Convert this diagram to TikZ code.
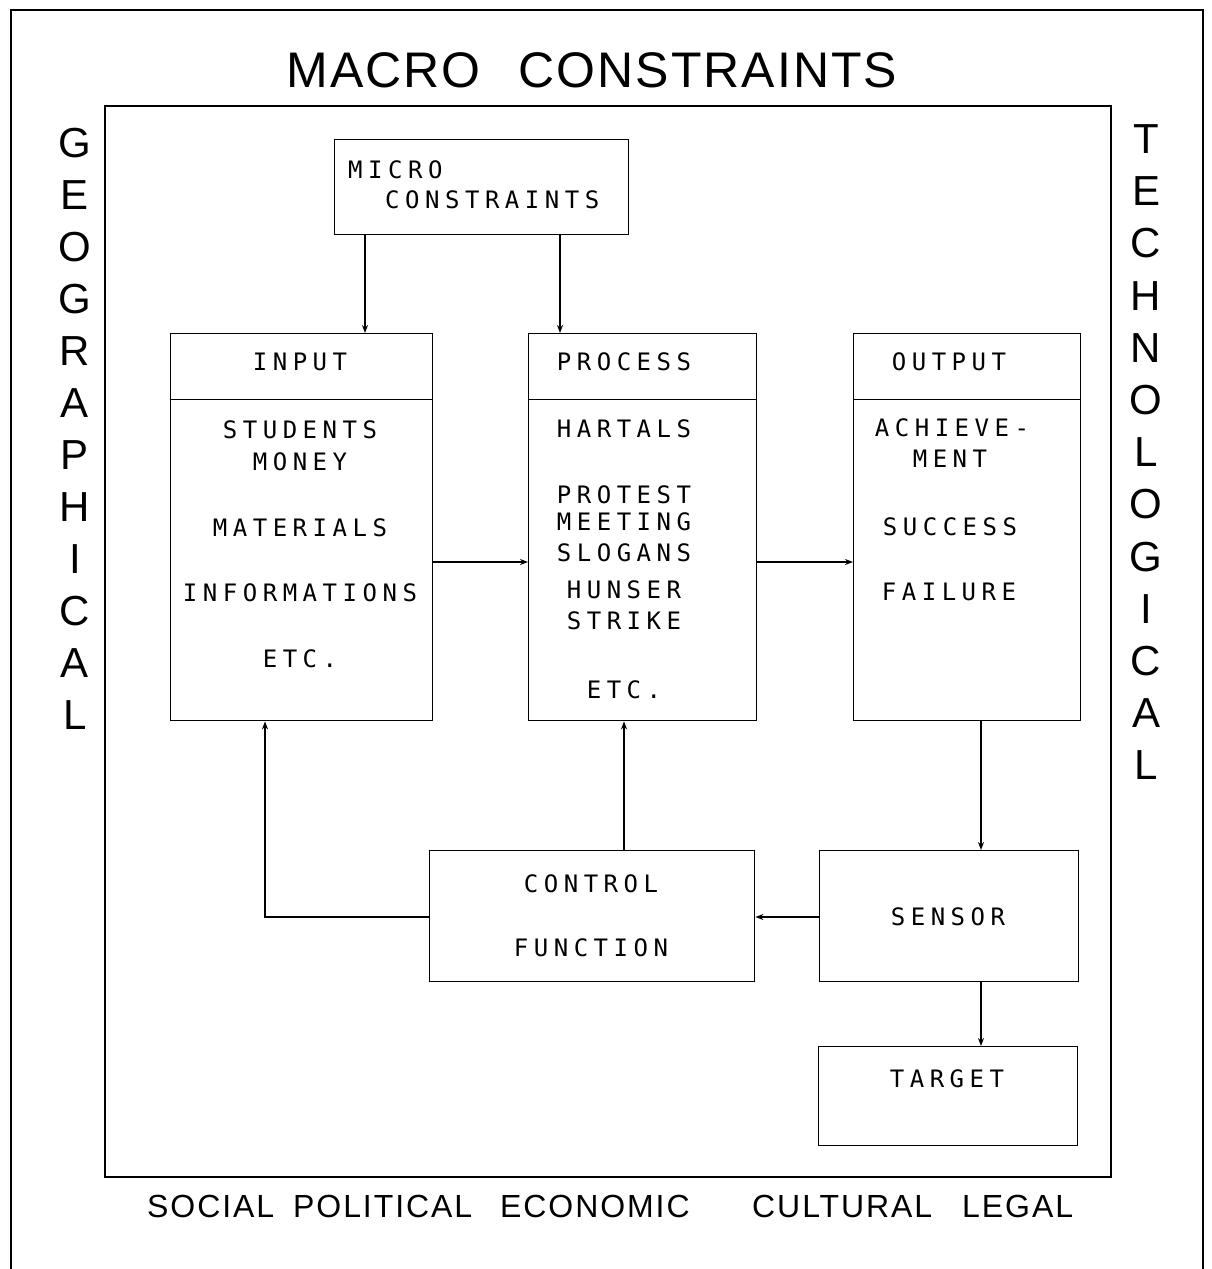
\documentclass[tikz,border=0pt]{standalone}
\usepackage{fontspec}
\setmainfont{Liberation Sans}
\newfontfamily\boxfont[LetterSpace=23]{DejaVu Sans Mono}
\newfontfamily\titlefont[LetterSpace=4]{Liberation Sans}
\newfontfamily\botfont[LetterSpace=6]{Liberation Sans}
\newfontfamily\sidefont{Liberation Sans}
\usetikzlibrary{arrows.meta}
\begin{document}
\begin{tikzpicture}[x=1pt,y=-1pt,
  box/.style={draw, line width=1.4pt, rectangle, inner sep=0pt, anchor=north west},
  arr/.style={line width=2.2pt, -{Stealth[length=8pt,width=6pt]}},
  txt/.style={font=\boxfont\fontsize{24pt}{28pt}\selectfont, inner sep=0pt},
  side/.style={font=\sidefont\fontsize{42pt}{48pt}\selectfont, inner sep=0pt},
  bot/.style={font=\botfont\fontsize{32pt}{38pt}\selectfont, inner sep=0pt, anchor=west}]
\useasboundingbox (0,0) rectangle (1211,1269);
\fill[white] (0,0) rectangle (1211,1269);
% frames
\draw[line width=1.4pt] (11,1269) -- (11,10) -- (1203,10) -- (1203,1269);
\draw[line width=1.6pt] (105,106) rectangle (1111,1177);
% title
\node[font=\titlefont\fontsize{50pt}{60pt}\selectfont, inner sep=0pt] (title) at (592,70) {MACRO\hspace{38pt}CONSTRAINTS};
% side letters
\foreach [count=\i] \c in {G,E,O,G,R,A,P,H,I,C,A,L}
  \node[side] (geo\i) at (75,{143+52*(\i-1)}) {\c};
\foreach [count=\i] \c in {T,E,C,H,N,O,L,O,G,I,C,A,L}
  \node[side] (tec\i) at (1146,{139+52.2*(\i-1)}) {\c};
% bottom words
\node[bot] (wsoc) at (147,1206.5) {SOCIAL};
\node[bot] (wpol) at (293,1206.5) {POLITICAL};
\node[bot] (weco) at (500,1206.5) {ECONOMIC};
\node[bot] (wcul) at (752,1206.5) {CULTURAL};
\node[bot] (wleg) at (962,1206.5) {LEGAL};
% boxes
\node[box, minimum width=294pt, minimum height=95pt] (micro) at (334,139) {};
\node[box, minimum width=262pt, minimum height=66pt] (inhead) at (170,333) {};
\node[box, minimum width=262pt, minimum height=321pt] (inbody) at (170,399) {};
\node[box, minimum width=228pt, minimum height=66pt] (prhead) at (528,333) {};
\node[box, minimum width=228pt, minimum height=321pt] (prbody) at (528,399) {};
\node[box, minimum width=227pt, minimum height=66pt] (outhead) at (853,333) {};
\node[box, minimum width=227pt, minimum height=321pt] (outbody) at (853,399) {};
\node[box, minimum width=325pt, minimum height=131pt] (control) at (429,850) {};
\node[box, minimum width=259pt, minimum height=131pt] (sensor) at (819,850) {};
\node[box, minimum width=259pt, minimum height=99pt] (target) at (818,1046) {};
% box texts
\node[txt, anchor=west] (microa) at (348,170) {MICRO};
\node[txt, anchor=west] (microb) at (385,200) {CONSTRAINTS};
\node[txt] (tin) at (300,362) {INPUT};
\node[txt] (tin1) at (300,430) {STUDENTS};
\node[txt] (tin2) at (300,462) {MONEY};
\node[txt] (tin3) at (300,528) {MATERIALS};
\node[txt] (tin4) at (300,593) {INFORMATIONS};
\node[txt] (tin5) at (300,659) {ETC.};
\node[txt] (tpr) at (624,362) {PROCESS};
\node[txt] (tpr1) at (624,429) {HARTALS};
\node[txt] (tpr2) at (624,495) {PROTEST};
\node[txt] (tpr3) at (624,522) {MEETING};
\node[txt] (tpr4) at (624,553) {SLOGANS};
\node[txt] (tpr5) at (624,590) {HUNSER};
\node[txt] (tpr6) at (624,621) {STRIKE};
\node[txt] (tpr7) at (624,690) {ETC.};
\node[txt] (tou) at (949,362) {OUTPUT};
\node[txt] (tou1) at (952,428) {ACHIEVE-};
\node[txt] (tou2) at (950,459) {MENT};
\node[txt] (tou3) at (950,527) {SUCCESS};
\node[txt] (tou4) at (949,592) {FAILURE};
\node[txt] (tco1) at (591,884) {CONTROL};
\node[txt] (tco2) at (591,948) {FUNCTION};
\node[txt] (tse) at (948,917) {SENSOR};
\node[txt] (tta) at (947,1079) {TARGET};
% connector guides
\coordinate (xa) at (365,0);
\coordinate (xb) at (560,0);
\coordinate (xc) at (265,0);
\coordinate (xd) at (624,0);
\coordinate (xe) at (981,0);
\coordinate (ym) at (0,562);
\coordinate (yc) at (0,917);
% connectors
\draw[arr] (micro.south -| xa) -- (inhead.north -| xa);
\draw[arr] (micro.south -| xb) -- (prhead.north -| xb);
\draw[arr] (inbody.east |- ym) -- (prbody.west |- ym);
\draw[arr] (prbody.east |- ym) -- (outbody.west |- ym);
\draw[arr] (outbody.south -| xe) -- (sensor.north -| xe);
\draw[arr] (sensor.west |- yc) -- (control.east |- yc);
\draw[arr] (control.west |- yc) -| (inbody.south -| xc);
\draw[arr] (control.north -| xd) -- (prbody.south -| xd);
\draw[arr] (sensor.south -| xe) -- (target.north -| xe);
\end{tikzpicture}
\end{document}
